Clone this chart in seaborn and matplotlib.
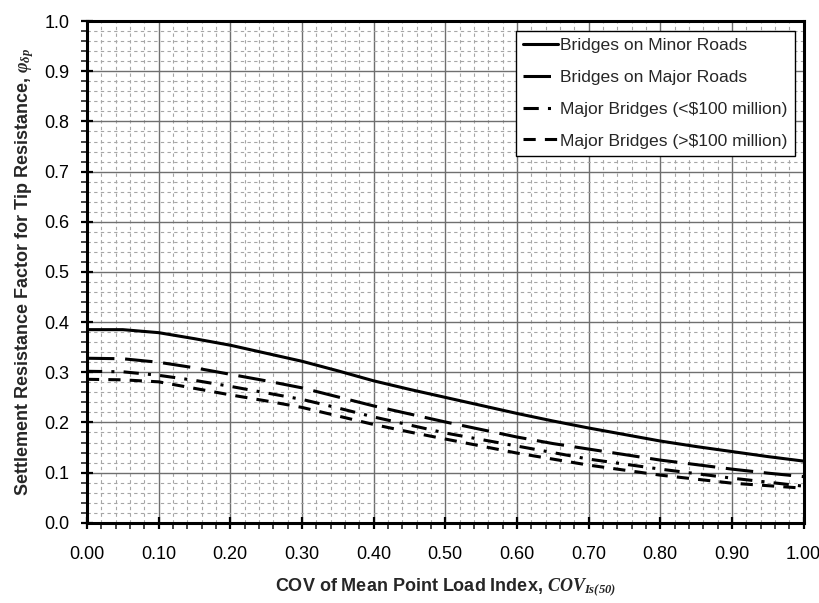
import matplotlib
matplotlib.use("Agg")
import matplotlib.pyplot as plt
import seaborn as sns
from matplotlib.ticker import MultipleLocator

# COV of mean point load index
cov = [0.00, 0.05, 0.10, 0.15, 0.20, 0.25, 0.30, 0.35, 0.40, 0.45, 0.50,
       0.55, 0.60, 0.65, 0.70, 0.75, 0.80, 0.85, 0.90, 0.95, 1.00]

# resistance factors
minor_roads = [0.385, 0.385, 0.379, 0.367, 0.354, 0.338, 0.322, 0.303, 0.283, 0.266, 0.250,
               0.234, 0.218, 0.203, 0.189, 0.176, 0.163, 0.152, 0.142, 0.132, 0.123]
major_roads = [0.328, 0.327, 0.320, 0.309, 0.296, 0.283, 0.269, 0.251, 0.233, 0.217, 0.201,
               0.186, 0.171, 0.158, 0.147, 0.136, 0.125, 0.116, 0.107, 0.099, 0.092]
major_lt100 = [0.302, 0.301, 0.294, 0.284, 0.272, 0.259, 0.246, 0.229, 0.211, 0.195, 0.179,
               0.166, 0.153, 0.140, 0.127, 0.117, 0.107, 0.098, 0.089, 0.081, 0.073]
major_gt100 = [0.286, 0.285, 0.281, 0.268, 0.255, 0.243, 0.230, 0.213, 0.196, 0.181, 0.167,
               0.153, 0.139, 0.127, 0.115, 0.105, 0.095, 0.087, 0.079, 0.074, 0.069]

labels = ["Bridges on Minor Roads", "Bridges on Major Roads",
          "Major Bridges (<$100 million)", "Major Bridges (>$100 million)"]

sns.set_theme(style="white")
plt.rcParams['font.family'] = ['Liberation Sans', 'DejaVu Sans']
plt.rcParams['mathtext.fontset'] = 'custom'
plt.rcParams['mathtext.it'] = 'Liberation Serif:bold:italic'
plt.rcParams['mathtext.rm'] = 'Liberation Serif:bold:italic'

fig = plt.figure(figsize=(8.2, 6.03), dpi=100)
ax = fig.add_axes([0.106, 0.133, 0.874, 0.832])

styles = ['-', (0, (9, 3.5)), (0, (5, 3, 1, 3)), (0, (4, 3))]
series = [minor_roads, major_roads, major_lt100, major_gt100]
for vals, lab, ls in zip(series, labels, styles):
    sns.lineplot(x=cov, y=vals, ax=ax, color='black', linewidth=2.2,
                 linestyle=ls, label=lab.replace('$', r'\$'))

ax.set_xlim(0, 1)
ax.set_ylim(0, 1)
ax.xaxis.set_major_locator(MultipleLocator(0.1))
ax.xaxis.set_minor_locator(MultipleLocator(0.02))
ax.yaxis.set_major_locator(MultipleLocator(0.1))
ax.yaxis.set_minor_locator(MultipleLocator(0.02))
ax.xaxis.set_major_formatter(lambda v, p: f"{v:.2f}")
ax.yaxis.set_major_formatter(lambda v, p: f"{v:.1f}")

ax.grid(which='major', color='#6f6f6f', linewidth=1.0, linestyle='-')
ax.grid(which='minor', color='#a6a6a6', linewidth=0.8, linestyle=(0, (3, 3)))
ax.set_axisbelow(True)

for s in ax.spines.values():
    s.set_color('black')
    s.set_linewidth(2.2)

ax.tick_params(which='major', direction='inout', length=9, width=1.6,
               labelsize=13, colors='black',
               bottom=True, left=True)
ax.tick_params(axis='x', which='major', pad=12)
ax.tick_params(axis='y', which='major', pad=8)
ax.tick_params(which='minor', direction='out', length=4, width=1.2,
               bottom=True, left=True)

ax.set_xlabel("COV of Mean Point Load Index, $COV_{Is(50)}$",
              fontsize=13, fontweight='bold', labelpad=10)
ax.set_ylabel(r"Settlement Resistance Factor for Tip Resistance, $\varphi_{\delta p}$",
              fontsize=13, fontweight='bold', labelpad=6)

leg = ax.legend(loc='upper right', bbox_to_anchor=(0.9875, 0.981), borderaxespad=0,
                fontsize=12.6, frameon=True, fancybox=False, edgecolor='black',
                framealpha=1, handlelength=2.0, handletextpad=0.1,
                borderpad=0.4, labelspacing=0.95)
leg.get_frame().set_linewidth(1.0)

fig.savefig("out.png", dpi=100)
